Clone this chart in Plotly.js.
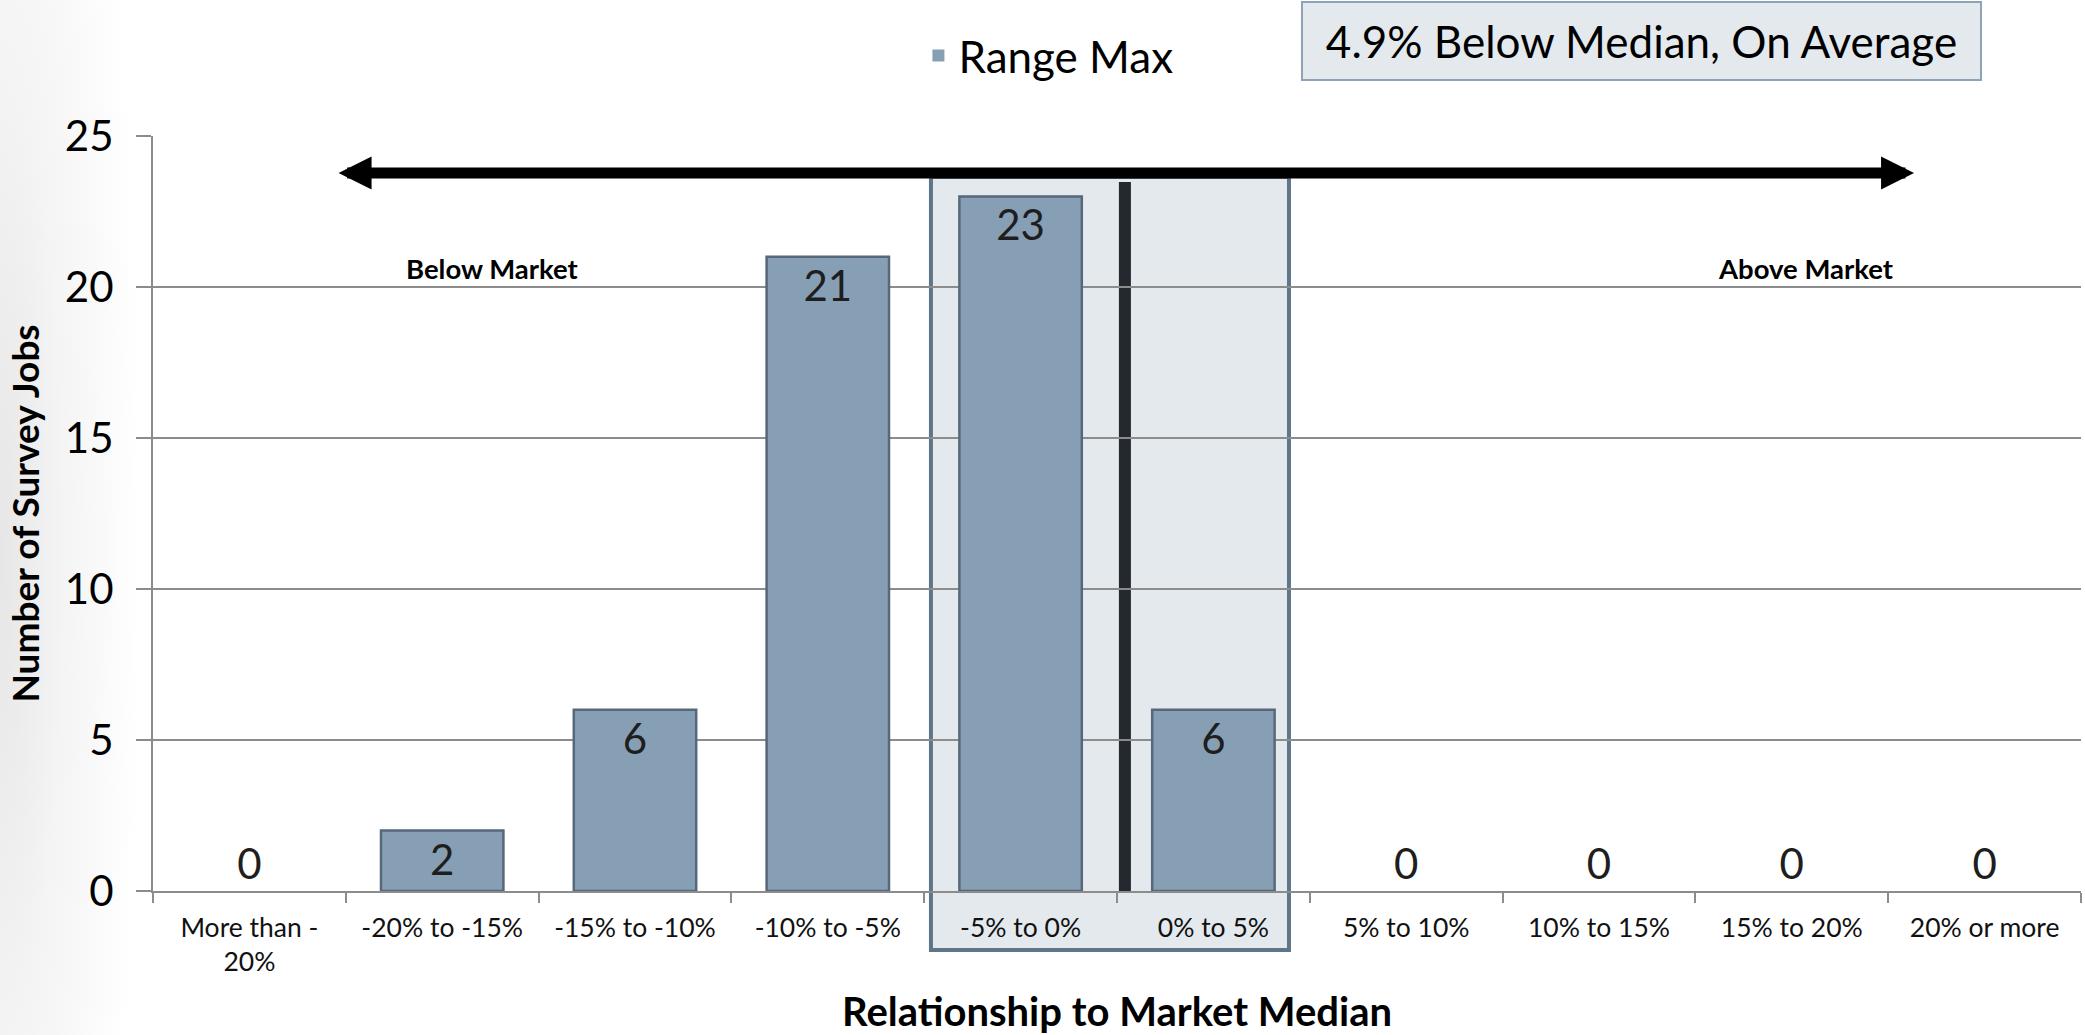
<!DOCTYPE html>
<html>
<head>
<meta charset="utf-8">
<script src="https://cdn.plot.ly/plotly-3.0.1.min.js"></script>
<style>
  html, body { margin: 0; padding: 0; width: 2085px; height: 1035px; overflow: hidden;
    background: radial-gradient(ellipse 140px 1100px at 0px 560px, #e6e6e6 0%, #f4f4f4 45%, #ffffff 100%); }
  #chart { width: 2085px; height: 1035px; }
</style>
</head>
<body>
<div id="chart"></div>
<script>
// ---- data ----
const categories = ['More than -<br>20%', '-20% to -15%', '-15% to -10%', '-10% to -5%', '-5% to 0%',
                    '0% to 5%', '5% to 10%', '10% to 15%', '15% to 20%', '20% or more'];
const rangeMax = [0, 2, 6, 21, 23, 6, 0, 0, 0, 0];
const yTickVals = [0, 5, 10, 15, 20, 25];
const seriesName = 'Range Max';
const calloutText = '4.9% Below Median, On Average';
const belowLabel = 'Below Market';
const aboveLabel = 'Above Market';
const xTitle = 'Relationship to Market Median';
const yTitle = 'Number of Survey Jobs';

const FONT = 'Lato, "Open Sans", sans-serif';
const GRID = '#8c8c8c';

const bar = {
  type: 'bar',
  name: seriesName,
  x: categories,
  y: rangeMax,
  text: rangeMax.map(String),
  texttemplate: '%{text}',
  textposition: rangeMax.map(v => v > 0 ? 'inside' : 'outside'),
  insidetextanchor: 'end',
  constraintext: 'none',
  cliponaxis: false,
  textfont: { family: FONT, size: 42, color: '#1e1e1e' },
  marker: { color: '#879fb5', line: { color: '#56687a', width: rangeMax.map(v => v > 0 ? 2.5 : 0) } },
  hoverinfo: 'x+y'
};

const layout = {
  width: 2085, height: 1035,
  margin: { l: 153, r: 4, t: 136, b: 144 },
  paper_bgcolor: 'rgba(0,0,0,0)',
  plot_bgcolor: 'rgba(0,0,0,0)',
  font: { family: FONT, color: '#000' },
  bargap: 0.365,
  showlegend: true,
  legend: {
    orientation: 'h', x: 0.397, xanchor: 'left', y: 1.106, yanchor: 'middle',
    font: { family: FONT, size: 44, color: '#000' }, bgcolor: 'rgba(0,0,0,0)'
  },
  xaxis: {
    type: 'category',
    showgrid: false,
    showline: true, linecolor: GRID, linewidth: 2,
    ticks: 'outside', tickson: 'boundaries', ticklen: 10, tickwidth: 2, tickcolor: GRID,
    tickangle: 0,
    tickfont: { family: FONT, size: 26.5, color: '#111' },
    ticklabelstandoff: 12,
    title: { text: xTitle, font: { family: FONT, size: 40, color: '#000', weight: 'bold' }, standoff: 26 }
  },
  yaxis: {
    range: [0, 25],
    tickvals: yTickVals,
    showgrid: true, gridcolor: GRID, gridwidth: 2,
    zeroline: false,
    showline: true, linecolor: GRID, linewidth: 2,
    ticks: 'outside', ticklen: 15, tickwidth: 2, tickcolor: GRID,
    tickfont: { family: FONT, size: 42, color: '#000' },
    ticklabelstandoff: 14,
    title: { text: yTitle, font: { family: FONT, size: 37, color: '#000', weight: 'bold' }, standoff: 14 }
  },
  shapes: [
    // highlighted band round the two middle categories
    { type: 'rect', xref: 'paper', yref: 'paper', x0: 0.4035, x1: 0.5892, y0: -0.078, y1: 0.9457,
      fillcolor: '#e4e9ee', line: { color: '#5f7588', width: 4 }, layer: 'below' },
    // median divider
    { type: 'line', xref: 'paper', yref: 'paper', x0: 0.5041, x1: 0.5041, y0: 0, y1: 0.939,
      line: { color: '#23292e', width: 12 }, layer: 'between' }
  ],
  annotations: [
    { xref: 'paper', yref: 'paper', x: 0.9134, y: 0.951, axref: 'pixel', ayref: 'pixel', ax: -1577, ay: 0,
      text: '', showarrow: true, arrowhead: 2, startarrowhead: 2, arrowside: 'end+start',
      arrowwidth: 11, arrowsize: 0.6, startarrowsize: 0.6, arrowcolor: '#000', standoff: 0, startstandoff: 0 },
    { xref: 'paper', yref: 'paper', x: 0.1763, y: 0.825, xanchor: 'center', yanchor: 'middle',
      text: belowLabel, showarrow: false,
      font: { family: FONT, size: 27.5, color: '#000', weight: 'bold' } },
    { xref: 'paper', yref: 'paper', x: 0.8574, y: 0.825, xanchor: 'center', yanchor: 'middle',
      text: aboveLabel, showarrow: false,
      font: { family: FONT, size: 27.5, color: '#000', weight: 'bold' } },
    { xref: 'paper', yref: 'paper', x: 0.7718, y: 1.1258, xanchor: 'center', yanchor: 'middle',
      text: calloutText, showarrow: false, width: 671, height: 70,
      bgcolor: '#e4e9ee', bordercolor: '#8ea3b8', borderwidth: 2, borderpad: 3,
      font: { family: FONT, size: 44, color: '#000' } }
  ]
};

Plotly.newPlot('chart', [bar], layout, { displayModeBar: false, staticPlot: true });
</script>
</body>
</html>
